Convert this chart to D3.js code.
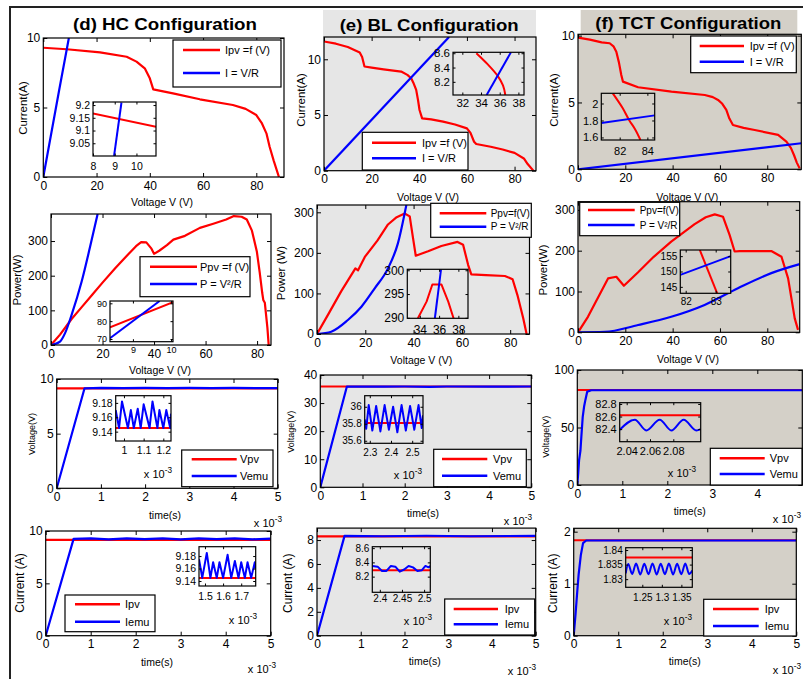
<!DOCTYPE html>
<html>
<head>
<meta charset="utf-8">
<script src="https://cdn.jsdelivr.net/npm/d3@7"></script>
<style>
body{margin:0;background:#fff}
svg{display:block}
</style>
</head>
<body>
<div id="chart-area"></div>
<script>
// ---------- data ----------
// (d) HC configuration
var hcIpv = [[0,9.3],[8.8,9.19],[21.3,8.97],[31.3,8.65],[35,8.3],[38.1,7.82],[40,7.1],[41.3,6.3],[48.7,6.02],[58.8,5.59],[71.2,5.18],[76,4.9],[80,4.46],[82,3.9],[83.8,3.14],[85,2.18],[86.5,1.2],[88.5,0]];
var hcIload = [[0,0],[6,6.3],[9.6,10]];
var hcIpvZoom = [[8,9.167],[10.9,9.115]];
var hcIloadZoom = [[8.97,9.0],[9.31,9.21]];
var hcPpv = [[0,0],[3.5,30],[8,75],[12,110],[16,145],[20,180],[25,222],[30,262],[33,285],[35,297],[37,296],[39,278],[40,263],[42,272],[45,288],[47.5,304],[52,315],[57.8,338],[63,350],[68,362],[71,372],[74,370],[76,362],[78,330],[79.9,270],[81,210],[82,150],[82.4,130],[83,122],[84,50],[84.5,0]];
var hcPload = [[0,0],[3.5,10],[5.5,35],[8,87],[11.9,183],[15.1,281],[18.1,378]];
var hcPpvZoom = [[8.4,76.6],[10.05,90.6]];
var hcPloadZoom = [[8.4,70.4],[9.7,91.3]];
var hcVpv = [[0,9.15],[5,9.15]];
var hcVemu = [[0,0],[0.63,9.15],[1,9.18],[1.5,9.16],[2,9.18],[2.5,9.16],[3,9.18],[3.5,9.16],[4,9.18],[4.5,9.16],[5,9.17]];
var hcVpvZoom = [[0.958,9.145],[1.239,9.145]];
var hcVemuZoom = [[0.958,9.17],[0.975,9.145],[0.99,9.182],[1.02,9.145],[1.035,9.17],[1.05,9.145],[1.07,9.172],[1.085,9.145],[1.10,9.178],[1.13,9.145],[1.145,9.182],[1.17,9.145],[1.18,9.17],[1.20,9.145],[1.215,9.17],[1.235,9.145],[1.239,9.165]];
var hcIpvT = [[0,9.15],[5,9.15]];
var hcIemu = [[0,0],[0.62,9.25],[1,9.3],[1.4,9.2],[1.8,9.3],[2.2,9.22],[2.6,9.3],[3,9.2],[3.4,9.3],[3.8,9.22],[4.2,9.3],[4.6,9.2],[5,9.28]];
var hcIpvTZoom = [[1.467,9.145],[1.78,9.145]];
var hcIemuZoom = [[1.467,9.175],[1.485,9.145],[1.51,9.185],[1.53,9.145],[1.545,9.17],[1.565,9.145],[1.58,9.17],[1.60,9.145],[1.625,9.182],[1.645,9.145],[1.665,9.172],[1.685,9.145],[1.70,9.17],[1.72,9.145],[1.735,9.17],[1.755,9.145],[1.775,9.17],[1.78,9.16]];

// (e) BL configuration
var blIpv = [[0,11.6],[5,11.4],[10,11.1],[15,10.6],[16,10.2],[17,9.35],[20,9.25],[25,9.1],[32.4,8.9],[35,8.6],[36.6,8.3],[37.5,7.9],[38.7,7.25],[39.5,6.3],[40.1,5.45],[41.2,4.7],[45,4.6],[50,4.4],[55,4.15],[60,3.8],[61.5,3.4],[63,2.6],[63.9,2.4],[70,2.15],[75,1.9],[80,1.6],[83.9,1.1],[85.5,0.6],[87.9,0]];
var blIload = [[0,0],[52.5,12]];
var blIpvZoom = [[33.5,8.6],[34.75,8.44],[35.8,8.28],[36.35,8.15],[36.6,8.016]];
var blIloadZoom = [[34.6,8.016],[37.2,8.613]];
var blPpv = [[0,0],[5,52],[10,105],[15.9,161.6],[17,157],[19.8,190],[25,230],[29.4,270],[33,288],[36.3,297],[38.4,290],[39.8,235],[40.9,193],[46,204],[51.5,217],[58.2,227],[60.5,220],[62.6,170],[63.9,147],[70,145],[77.8,143],[81,135],[83,96],[85.4,38.7],[86.8,0]];
var blPload = [[0,0],[5.9,5.7],[12.8,34.5],[18.4,67.3],[23.9,112.6],[29.4,161.8],[33.5,223.4],[37,318]];
var blPpvZoom = [[33.8,289.9],[34.7,293.4],[35.3,297],[36.25,297],[36.95,293.4],[37.5,289.9]];
var blPloadZoom = [[35.56,289.9],[36.2,300.2]];
var blVpv = [[0,35.9],[5,35.9]];
var blVemu = [[0,0],[0.63,35.9],[1.5,35.85],[2,35.9],[2.6,35.8],[3,35.9],[4,35.85],[5,35.9]];
var blVpvZoom = [[2.276,35.81],[2.551,35.81]];
var blVemuZoom = [[2.276,35.85],[2.283,35.74],[2.295,36.02],[2.312,35.72],[2.33,36.01],[2.35,35.71],[2.37,36.02],[2.39,35.73],[2.41,36.0],[2.43,35.7],[2.45,36.02],[2.47,35.72],[2.49,36.01],[2.51,35.73],[2.53,36.02],[2.545,35.75],[2.551,35.9]];
var blIpvT = [[0,8.3],[5,8.3]];
var blIemu = [[0,0],[0.63,8.35],[1.5,8.32],[2.5,8.36],[3.5,8.32],[5,8.35]];
var blIpvTZoom = [[2.383,8.29],[2.514,8.29]];
var blIemuZoom = [[2.383,8.35],[2.395,8.34],[2.405,8.28],[2.415,8.28],[2.425,8.35],[2.435,8.34],[2.445,8.27],[2.455,8.3],[2.465,8.35],[2.475,8.33],[2.485,8.28],[2.495,8.29],[2.503,8.35],[2.51,8.33],[2.514,8.35]];

// (f) TCT configuration
var tctIpv = [[0,9.85],[5,9.7],[10,9.5],[13.4,9.43],[15,9.2],[16.2,8.8],[17.3,8],[18.3,7.06],[19,6.56],[25.4,6.14],[39.5,5.81],[53.6,5.56],[57,5.4],[59.2,5.19],[61,4.9],[62.7,4.44],[64,3.8],[65.5,3.31],[70,3.1],[74.7,2.94],[84.6,2.57],[88.1,2.07],[90,1.6],[91.3,1.07],[92.5,0.5],[93.7,0.07]];
var tctIload = [[0,0],[94.4,1.95]];
var tctIpvZoom = [[81.5,2.12],[82.2,1.95],[82.7,1.8],[83.1,1.7],[83.5,1.57]];
var tctIloadZoom = [[80.67,1.77],[84.53,1.86]];
var tctPpv = [[0,0],[4.2,38],[12.7,132],[16.2,136],[19.4,114],[25.4,147],[32,185],[39.4,222],[49.3,265],[54,282],[57.8,289],[61.3,283],[64.1,238],[66.2,198],[68.3,199],[81.7,199],[86,185],[88.8,132],[91.6,34],[93,6]];
var tctPload = [[0,0],[11.3,1],[25.4,18],[39.4,38],[53.5,67],[67.6,108],[81.7,145],[93.7,167]];
var tctPpvZoom = [[82.47,157],[83.05,142.9]];
var tctPloadZoom = [[81.82,148.9],[83.5,155]];
var tctVpv = [[0,82.6],[5,82.6]];
var tctVemu = [[0,0],[0.02,10],[0.04,21.7],[0.07,30],[0.09,42],[0.12,59],[0.15,68],[0.18,74],[0.22,81],[0.31,82.4],[5,82.4]];
var tctVpvZoom = [[2.034,82.62],[2.1035,82.62]];
var tctVemuZoom = [[2.034,82.39],[2.047,82.55],[2.0568,82.38],[2.0683,82.55],[2.0783,82.38],[2.0889,82.55],[2.0998,82.38],[2.1035,82.4]];
var tctIpvT = [[0,1.835],[5,1.835]];
var tctIemu = [[0,0],[0.04,0.4],[0.08,0.85],[0.11,1.17],[0.16,1.55],[0.21,1.78],[0.28,1.83],[5,1.83]];
var tctIpvTZoom = [[1.2075,1.8374],[1.378,1.8374]];
var tctIemuZoom = [[1.2075,1.832],[1.214,1.8352],[1.224,1.8318],[1.234,1.8354],[1.245,1.8316],[1.255,1.8353],[1.266,1.8317],[1.276,1.8354],[1.287,1.8316],[1.297,1.8353],[1.308,1.8317],[1.318,1.8354],[1.329,1.8316],[1.339,1.8353],[1.35,1.8317],[1.36,1.8354],[1.37,1.8318],[1.378,1.833]];

// tick labels
var vTicks = [0,20,40,60,80];
var tTicks = [0,1,2,3,4,5];

// ---------- drawing ----------
var FONT = '"Liberation Sans", Arial, sans-serif';
var RED = "#ff0000", BLUE = "#0000ff";
var BG_E = "#e6e6e6", BG_F = "#d4d0c8";

var svg = d3.select("#chart-area").append("svg")
    .attr("width", 803)
    .attr("height", 679)
    .style("font-family", FONT);

var clipCount = 0;

function plotArea(o) {
    var b = o.box;
    var x = d3.scaleLinear().domain(o.xd).range([b[0], b[2]]);
    var y = d3.scaleLinear().domain(o.yd).range([b[3], b[1]]);
    var g = svg.append("g");
    var tl = o.tl || 4;
    g.append("rect").attr("x", b[0]).attr("y", b[1])
        .attr("width", b[2]-b[0]).attr("height", b[3]-b[1]).attr("fill", o.bg);
    var id = "clip" + (clipCount++);
    svg.append("clipPath").attr("id", id).append("rect")
        .attr("x", b[0]).attr("y", b[1]).attr("width", b[2]-b[0]).attr("height", b[3]-b[1]);
    o.series.forEach(function(s){
        g.append("path").datum(s.data)
            .attr("clip-path", "url(#" + id + ")")
            .attr("d", d3.line().x(function(d){return x(d[0]);}).y(function(d){return y(d[1]);}).curve(s.curve || d3.curveLinear))
            .attr("fill", "none")
            .attr("stroke", s.color)
            .attr("stroke-width", o.lw || 2.2)
            .attr("stroke-linejoin", "round");
    });
    var fmt = function(d){ return String(d); };
    var axs = [];
    axs.push(g.append("g").attr("transform", "translate(0," + b[3] + ")")
        .call(d3.axisBottom(x).tickValues(o.xt).tickSize(-tl).tickPadding(o.pad).tickFormat(fmt)));
    axs.push(g.append("g").attr("transform", "translate(0," + b[1] + ")")
        .call(d3.axisTop(x).tickValues(o.xt).tickSize(-tl).tickFormat("")));
    axs.push(g.append("g").attr("transform", "translate(" + b[0] + ",0)")
        .call(d3.axisLeft(y).tickValues(o.yt).tickSize(-tl).tickPadding(3).tickFormat(fmt)));
    axs.push(g.append("g").attr("transform", "translate(" + b[2] + ",0)")
        .call(d3.axisRight(y).tickValues(o.yt).tickSize(-tl).tickFormat("")));
    axs.forEach(function(a){
        a.select(".domain").remove();
        a.attr("font-size", o.fs).attr("font-family", FONT);
        a.selectAll("line").attr("stroke", "#000");
        a.selectAll("text").attr("fill", "#000");
    });
    g.append("rect").attr("x", b[0]).attr("y", b[1])
        .attr("width", b[2]-b[0]).attr("height", b[3]-b[1])
        .attr("fill", "none").attr("stroke", "#000").attr("stroke-width", 1.2);
    return g;
}

function legend(l) {
    var g = svg.append("g");
    g.append("rect").attr("x", l.box[0]).attr("y", l.box[1])
        .attr("width", l.box[2]-l.box[0]).attr("height", l.box[3]-l.box[1])
        .attr("fill", "#fff").attr("stroke", "#000").attr("stroke-width", 1.2);
    l.items.forEach(function(it, i){
        var yy = l.rows[i];
        g.append("line").attr("x1", l.line[0]).attr("x2", l.line[1])
            .attr("y1", yy).attr("y2", yy).attr("stroke", it[1]).attr("stroke-width", 2.6);
        g.append("text").attr("x", l.tx).attr("y", yy + l.fs*0.36)
            .attr("font-size", l.fs).text(it[0]);
    });
}

function label(txt, cx, cy, fs, rot, anchor) {
    var t = svg.append("text")
        .attr("transform", "translate(" + cx + "," + cy + ")" + (rot ? " rotate(-90)" : ""))
        .attr("text-anchor", anchor || "middle")
        .attr("dy", "0.35em")
        .attr("font-size", fs)
        .text(txt);
    return t;
}

function expo(xr, yb, fs) {
    var t = svg.append("text").attr("x", xr).attr("y", yb)
        .attr("text-anchor", "end").attr("font-size", fs);
    t.append("tspan").text("x 10");
    t.append("tspan").attr("dy", -fs*0.45).attr("font-size", fs*0.75).text("-3");
}

function panel(p) {
    plotArea({box: p.box, xd: p.xd, yd: p.yd, xt: p.xt, yt: p.yt, bg: p.bg, fs: 12, pad: 4, tl: 4,
        series: p.series});
    var ins = p.inset;
    plotArea({box: ins.box, xd: ins.xd, yd: ins.yd, xt: ins.xt, yt: ins.yt, bg: p.bg, fs: ins.fs,
        pad: ins.pad, tl: 2.5, lw: 2, series: ins.series});
    legend(p.legend);
    label(p.ylab[0], p.ylab[1], p.ylab[2], p.ylab[3], true);
    label(p.xlab[0], p.xlab[1], p.xlab[2], 10.5, false);
    if (p.expo) expo(p.expo[0], p.expo[1], 11);
    if (ins.expo) expo(ins.expo[0], ins.expo[1], 11);
}

// outer frame lines
svg.append("path").attr("d", "M10,679V7H803").attr("fill", "none")
    .attr("stroke", "#222").attr("stroke-width", 2);

// title bands
svg.append("rect").attr("x", 323).attr("y", 10).attr("width", 213).attr("height", 27).attr("fill", BG_E);
svg.append("rect").attr("x", 580.7).attr("y", 10).attr("width", 216.6).attr("height", 24.3).attr("fill", BG_F);

[["(d)  HC Configuration", 165, 29.5, 184],
 ["(e)  BL Configuration", 429.2, 30.5, 179],
 ["(f)  TCT Configuration", 688.3, 29.3, 186]].forEach(function(t){
    svg.append("text").attr("x", t[1]).attr("y", t[2]).attr("text-anchor", "middle")
        .attr("font-size", 17).attr("font-weight", "bold")
        .attr("textLength", t[3]).attr("lengthAdjust", "spacingAndGlyphs")
        .text(t[0]);
});

var lgIV = [["Ipv =f (V)", RED], ["I = V/R", BLUE]];
var lgV = [["Vpv", RED], ["Vemu", BLUE]];
var lgI = [["Ipv", RED], ["Iemu", BLUE]];

// ---- column (d) ----
panel({box: [43.3,38,284,177], xd: [0,90.4], yd: [0,10], xt: vTicks, yt: [0,5,10], bg: "#fff",
    series: [{data: hcIpv, color: RED}, {data: hcIload, color: BLUE}],
    inset: {box: [93,102,156,156], xd: [8,10.9], yd: [9.0,9.212], xt: [8,9,10], yt: [9.05,9.1,9.15,9.2], fs: 10.5, pad: 7,
        series: [{data: hcIpvZoom, color: RED}, {data: hcIloadZoom, color: BLUE}]},
    legend: {box: [173,40,281,87], rows: [50,73], line: [183,220], tx: 225, fs: 11, items: lgIV},
    ylab: ["Current(A)", 23, 108, 11.5], xlab: ["Voltage V (V)", 162, 202]});

panel({box: [51,214,271,345], xd: [0,85.4], yd: [0,378], xt: vTicks, yt: [0,100,200,300], bg: "#fff",
    series: [{data: hcPpv, color: RED}, {data: hcPload, color: BLUE, curve: d3.curveMonotoneX}],
    inset: {box: [110,301,173,341.7], xd: [8.4,10.05], yd: [68.5,91.3], xt: [9,10], yt: [70,80,90], fs: 9, pad: 5,
        series: [{data: hcPpvZoom, color: RED}, {data: hcPloadZoom, color: BLUE}]},
    legend: {box: [140,256.7,250,296.7], rows: [266.7,284], line: [150,197], tx: 200, fs: 11,
        items: [["Ppv =f (V)", RED], ["P = V\u00b2/R", BLUE]]},
    ylab: ["Power(W)", 17, 280, 11.5], xlab: ["Voltage V (V)", 160, 370]});

panel({box: [56.7,379,277.7,488.3], xd: [0,5], yd: [0,10], xt: tTicks, yt: [0,5,10], bg: "#fff",
    series: [{data: hcVpv, color: RED}, {data: hcVemu, color: BLUE}],
    inset: {box: [115.7,395.7,171,441], xd: [0.958,1.239], yd: [9.127,9.19], xt: [1,1.1,1.2], yt: [9.14,9.16,9.18], fs: 10.5, pad: 6,
        series: [{data: hcVpvZoom, color: RED}, {data: hcVemuZoom, color: BLUE}], expo: [172,478]},
    legend: {box: [181.7,450,273,486.7], rows: [459.3,476], line: [191.7,236.7], tx: 240, fs: 11, items: lgV},
    ylab: ["Voltage(V)", 31.7, 434, 9], xlab: ["time(s)", 165, 515], expo: [282,527]});

panel({box: [45.7,531,270.7,635.7], xd: [0,5], yd: [0,10], xt: tTicks, yt: [0,5,10], bg: "#fff",
    series: [{data: hcIpvT, color: RED}, {data: hcIemu, color: BLUE}],
    inset: {box: [199,546.7,255.7,586], xd: [1.467,1.78], yd: [9.132,9.195], xt: [1.5,1.6,1.7], yt: [9.14,9.16,9.18], fs: 10.5, pad: 7,
        series: [{data: hcIpvTZoom, color: RED}, {data: hcIemuZoom, color: BLUE}], expo: [257,624]},
    legend: {box: [65,595,155,631.7], rows: [604.3,621.7], line: [75,120], tx: 125, fs: 11, items: lgI},
    ylab: ["Current (A)", 20, 583, 12], xlab: ["time(s)", 157, 662], expo: [276,673]});

// ---- column (e) ----
panel({box: [324,37,536,170.7], xd: [0,89], yd: [0,12], xt: vTicks, yt: [0,5,10], bg: BG_E,
    series: [{data: blIpv, color: RED}, {data: blIload, color: BLUE}],
    inset: {box: [453,52.3,524,95], xd: [31,38.6], yd: [8.016,8.613], xt: [32,34,36,38], yt: [8.2,8.4,8.6], fs: 11.5, pad: 4,
        series: [{data: blIpvZoom, color: RED, curve: d3.curveMonotoneY}, {data: blIloadZoom, color: BLUE}]},
    legend: {box: [362.3,132.3,468,170], rows: [142.7,158.3], line: [372,416], tx: 422, fs: 11, items: lgIV},
    ylab: ["Current(A)", 301.3, 100, 11.5], xlab: ["Voltage V (V)", 428, 197.7]});

panel({box: [317,205,529.5,334], xd: [0,88], yd: [0,318], xt: vTicks, yt: [0,100,200,300], bg: BG_E,
    series: [{data: blPpv, color: RED}, {data: blPload, color: BLUE, curve: d3.curveMonotoneX}],
    inset: {box: [407.3,269.3,468,318.3], xd: [32.7,39.0], yd: [289.9,300.2], xt: [34,36,38], yt: [290,295,300], fs: 12, pad: 7,
        series: [{data: blPpvZoom, color: RED}, {data: blPloadZoom, color: BLUE}]},
    legend: {box: [430.7,203.3,531.3,237.3], rows: [213.3,226.7], line: [439.7,486.3], tx: 490.7, fs: 10,
        items: [["Ppv=f(V)", RED], ["P = V\u00b2/R", BLUE]]},
    ylab: ["Power (W)", 281.3, 273, 11.5], xlab: ["Voltage V (V)", 421.3, 360]});

panel({box: [320.3,375,531.3,487.3], xd: [0,5], yd: [0,40], xt: tTicks, yt: [0,10,20,30,40], bg: BG_E,
    series: [{data: blVpv, color: RED}, {data: blVemu, color: BLUE}],
    inset: {box: [364.7,395.7,423,443.3], xd: [2.276,2.551], yd: [35.57,36.13], xt: [2.3,2.4,2.5], yt: [35.6,35.8,36], fs: 10, pad: 6,
        series: [{data: blVpvZoom, color: RED}, {data: blVemuZoom, color: BLUE}], expo: [422,479]},
    legend: {box: [433.7,449.3,526.3,486.7], rows: [459,475.7], line: [442,487.3], tx: 493, fs: 11, items: lgV},
    ylab: ["Voltage(V)", 291.3, 431.7, 9], xlab: ["time(s)", 423, 513.3], expo: [532,525]});

panel({box: [317,528.1,535.7,635.7], xd: [0,5], yd: [0,9], xt: tTicks, yt: [0,2,4,6,8], bg: BG_E,
    series: [{data: blIpvT, color: RED}, {data: blIemu, color: BLUE}],
    inset: {box: [372.3,546.7,430.3,592.3], xd: [2.383,2.514], yd: [7.98,8.62], xt: [2.4,2.45,2.5], yt: [8.2,8.4,8.6], fs: 10, pad: 3,
        series: [{data: blIpvTZoom, color: RED}, {data: blIemuZoom, color: BLUE}], expo: [432,625]},
    legend: {box: [444.7,599,534.7,635], rows: [609,624.3], line: [453.7,498], tx: 504.7, fs: 11, items: lgI},
    ylab: ["Current (A)", 288, 583.3, 12], xlab: ["time(s)", 424.7, 661.7], expo: [536,675]});

// ---- column (f) ----
panel({box: [578,34.3,801.3,169.3], xd: [0,94.4], yd: [0,10.1], xt: vTicks, yt: [0,5,10], bg: BG_F,
    series: [{data: tctIpv, color: RED}, {data: tctIload, color: BLUE}],
    inset: {box: [601.3,93.3,654.7,140], xd: [80.67,84.53], yd: [1.57,2.12], xt: [82,84], yt: [1.6,1.8,2], fs: 11, pad: 7,
        series: [{data: tctIpvZoom, color: RED, curve: d3.curveMonotoneY}, {data: tctIloadZoom, color: BLUE}]},
    legend: {box: [690.7,36,796.3,72.7], rows: [46,61.7], line: [699.7,744], tx: 749.7, fs: 11, items: lgIV},
    ylab: ["Current(A)", 554, 100, 11.5], xlab: ["Voltage V (V)", 687.3, 197.3]});

panel({box: [578,201.7,799.7,332.3], xd: [0,93.7], yd: [0,320], xt: vTicks, yt: [0,100,200,300], bg: BG_F,
    series: [{data: tctPpv, color: RED}, {data: tctPload, color: BLUE, curve: d3.curveMonotoneX}],
    inset: {box: [680.3,250,730.7,293.3], xd: [81.82,83.5], yd: [142.9,157], xt: [82,83], yt: [145,150,155], fs: 10, pad: 4.5,
        series: [{data: tctPpvZoom, color: RED}, {data: tctPloadZoom, color: BLUE}]},
    legend: {box: [579.7,202.3,679.7,235.7], rows: [210,225], line: [588,634.7], tx: 639.7, fs: 10,
        items: [["Ppv=f(V)", RED], ["P = V\u00b2/R", BLUE]]},
    ylab: ["Power(W)", 543, 270, 11.5], xlab: ["Voltage V (V)", 688, 359.3]});

panel({box: [577.3,370,802.3,485], xd: [0,5], yd: [0,100], xt: [0,1,2,3,4], yt: [0,50,100], bg: BG_F,
    series: [{data: tctVpv, color: RED}, {data: tctVemu, color: BLUE}],
    inset: {box: [619.7,402.7,700.7,441.7], xd: [2.034,2.1035], yd: [82.2,82.82], xt: [2.04,2.06,2.08], yt: [82.4,82.6,82.8], fs: 11, pad: 5.5,
        series: [{data: tctVpvZoom, color: RED}, {data: tctVemuZoom, color: BLUE, curve: d3.curveMonotoneX}], expo: [696,477]},
    legend: {box: [710.3,448.3,802,485], rows: [458.3,474], line: [719.7,764.7], tx: 769.7, fs: 11, items: lgV},
    ylab: ["Voltage(V)", 546.3, 436.7, 9], xlab: ["time(s)", 689.7, 511], expo: [801,523]});

panel({box: [573.7,528.3,796.3,635.7], xd: [0,5], yd: [0,2.065], xt: tTicks, yt: [0,1,2], bg: BG_F,
    series: [{data: tctIpvT, color: RED}, {data: tctIemu, color: BLUE}],
    inset: {box: [625.7,547.7,692.3,587.3], xd: [1.2075,1.378], yd: [1.8272,1.8408], xt: [1.25,1.3,1.35], yt: [1.83,1.835,1.84], fs: 10, pad: 7,
        series: [{data: tctIpvTZoom, color: RED}, {data: tctIemuZoom, color: BLUE, curve: d3.curveMonotoneX}], expo: [692,625]},
    legend: {box: [703.7,599.3,796.3,636], rows: [609,626], line: [713,758.7], tx: 764.7, fs: 11, items: lgI},
    ylab: ["Current (A)", 553, 583.3, 12], xlab: ["time(s)", 684.7, 661.7], expo: [801,674]});
</script>
</body>
</html>
